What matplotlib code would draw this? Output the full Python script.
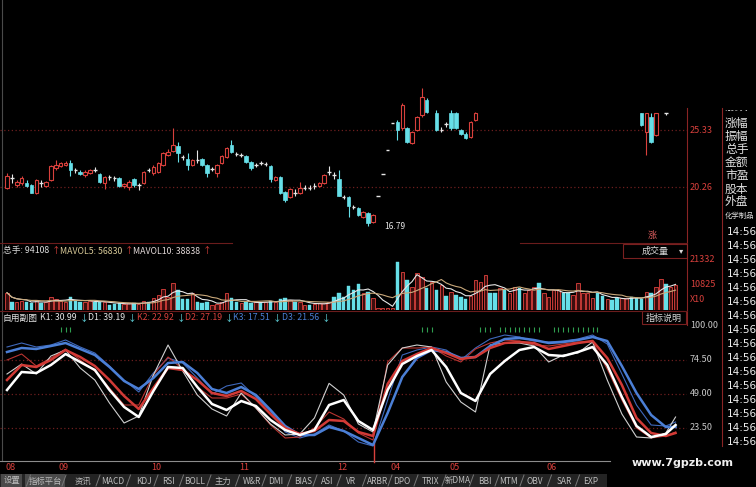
import numpy as np
import pandas as pd
import matplotlib
matplotlib.use("Agg")
import matplotlib.pyplot as plt
from matplotlib.patches import Rectangle
from matplotlib.transforms import blended_transform_factory as blend

plt.rcParams['font.family'] = ['Noto Sans CJK SC', 'DejaVu Sans']

nan = float('nan')

# ---------------- daily candles ----------------
open_ = ([20.17, 21.06, 20.44, 20.62, 20.62, 20.44, 19.73, 20.62, 20.35, 20.89,
          21.95, 22.13, 22.22, 22.40, 21.77, 21.60, 21.33, 21.51, 21.77, 21.42,
          20.62, 21.15, 21.06, 21.06, 20.35, 20.26, 20.97, 20.44, 20.62, 21.77,
          21.51, 21.60, 22.22, 23.11, 23.46, 23.91, 22.93, 22.75, 22.22, 22.66,
          22.75, 22.22, 21.86, 21.51, 22.40, 22.93, 24.00, 23.20, 23.11, 23.02,
          22.48, 22.22, 22.40, 22.31, 22.13, 20.89, 21.15, 19.82, 19.37, 19.77,
          19.73, 20.17, 20.20, 20.35, 20.35, 20.62, 21.60, 21.29, 20.97, 19.37,
          19.37, 18.48, 18.40, 17.59, 17.95, 17.15, 19.46, 21.42, 23.55, 25.91,
          26.04, 25.51, 25.51, 24.17, 25.33, 26.66, 28.00]
         + [nan]
         + [26.84, 25.33, 25.86, 26.84, 26.84, 25.33, 24.97, 24.71, 26.22]
         + [nan] * 33
         + [26.84, 25.15, 26.49, 24.89, nan, 26.84, nan, nan])
high = ([21.51, 21.42, 20.89, 21.24, 20.89, 20.53, 20.97, 20.89, 20.80, 22.22,
         22.66, 22.48, 22.57, 22.66, 21.95, 21.77, 21.77, 21.86, 22.04, 21.51,
         21.24, 21.33, 21.24, 21.15, 20.62, 20.89, 21.06, 20.62, 21.69, 21.95,
         22.22, 22.48, 23.37, 23.64, 25.51, 24.26, 23.11, 23.29, 22.75, 23.55,
         22.84, 22.31, 22.04, 22.31, 23.11, 23.82, 24.44, 23.37, 23.29, 23.11,
         22.57, 22.40, 22.57, 22.48, 22.22, 21.24, 21.24, 19.91, 20.17, 20.08,
         20.71, 20.44, 20.44, 20.62, 20.71, 21.42, 22.13, 21.60, 21.77, 19.55,
         19.46, 18.66, 18.48, 18.13, 18.04, 17.86, 19.46, 21.42, 23.55, 25.91,
         26.22, 27.73, 25.60, 25.24, 26.58, 29.06, 28.17]
        + [nan]
        + [27.11, 25.60, 26.04, 27.11, 26.93, 25.42, 25.15, 26.13, 26.93]
        + [nan] * 33
        + [26.84, 26.84, 26.84, 26.84, nan, 26.84, nan, nan])
low = ([20.08, 20.62, 20.26, 20.44, 20.26, 19.73, 19.64, 20.26, 20.26, 20.80,
        21.77, 22.04, 22.13, 21.24, 21.51, 21.33, 21.15, 21.42, 21.60, 20.62,
        20.08, 20.89, 20.80, 20.26, 20.17, 20.00, 20.26, 20.00, 20.53, 21.60,
        21.33, 21.51, 22.13, 23.02, 23.37, 22.48, 22.66, 21.77, 22.13, 22.40,
        22.13, 21.15, 21.69, 21.15, 22.31, 22.84, 23.29, 23.02, 22.93, 22.40,
        21.77, 22.04, 22.22, 22.13, 20.71, 20.80, 19.64, 18.93, 19.28, 19.46,
        19.64, 20.00, 20.00, 20.08, 20.26, 20.53, 21.33, 20.97, 19.46, 19.20,
        17.59, 18.31, 17.68, 17.51, 16.79, 17.06, 19.46, 21.42, 23.55, 25.91,
        24.44, 25.33, 24.17, 24.09, 25.24, 26.49, 26.84]
       + [nan]
       + [25.24, 25.15, 25.60, 25.33, 25.42, 24.89, 24.53, 24.62, 26.13]
       + [nan] * 33
       + [25.69, 23.11, 24.17, 24.80, nan, 26.66, nan, nan])
close = ([21.24, 21.06, 20.71, 21.06, 20.35, 19.73, 20.89, 20.62, 20.71, 22.13,
          22.22, 22.40, 22.40, 21.77, 21.77, 21.42, 21.60, 21.77, 21.77, 20.71,
          21.15, 21.15, 21.06, 20.35, 20.53, 20.71, 20.44, 20.44, 21.60, 21.77,
          22.04, 22.40, 23.29, 23.37, 24.00, 23.29, 22.93, 22.22, 22.66, 22.66,
          22.22, 21.51, 21.86, 22.22, 23.02, 23.73, 23.37, 23.20, 23.11, 22.48,
          21.95, 22.22, 22.40, 22.31, 20.97, 21.15, 19.73, 19.11, 20.08, 19.77,
          20.17, 20.17, 20.20, 20.35, 20.62, 21.33, 21.60, 21.29, 19.46, 19.37,
          18.57, 18.48, 17.77, 18.04, 17.06, 17.77, 19.46, 21.42, 23.55, 25.91,
          25.33, 27.55, 24.26, 25.15, 26.49, 28.26, 26.93]
         + [nan]
         + [25.33, 25.33, 25.86, 25.51, 25.51, 24.97, 24.62, 26.04, 26.84]
         + [nan] * 33
         + [25.77, 26.84, 24.26, 26.84, nan, 26.84, nan, nan])

# ---------------- volume (x10) ----------------
volume = [7270, 3500, 3400, 3600, 3500, 2800, 4200, 2800, 3500, 5330,
          4480, 3920, 3500, 5330, 3920, 3500, 3500, 3600, 3500, 3400,
          3500, 2100, 2520, 2800, 2520, 2800, 2800, 2520, 3920, 3500,
          4900, 6300, 8680, 5600, 11200, 8400, 4480, 4480, 7000, 3500,
          2800, 3500, 2100, 2520, 3500, 7000, 4900, 3500, 2800, 3500,
          2800, 3500, 3080, 3500, 3920, 3500, 4480, 4900, 4200, 3500,
          3500, 2100, 2100, 2520, 3080, 3080, 3500, 5330, 7270, 5600,
          10080, 8400, 10920, 7000, 7700, 4900,
          700, 650, 700, 750, 20300, 16100, 12600, 9800, 15400, 14000,
          9100, 11900, 8400, 10500, 5880, 7700, 6300, 5600, 4480, 5880,
          12600, 11900, 14700, 7000, 7000, 9100, 8400, 7000, 9800, 9380,
          7280, 8400, 9800, 11200, 7280, 5600, 8400, 8400, 7000, 7000,
          6300, 11480, 7280, 7280, 4900, 7000, 5880, 4480, 4200, 4900,
          4900, 4900, 5600, 4900, 4480, 7700, 7000, 9800, 12880, 10780,
          9800, 10500]
vol_dir = ("rcrrccrcrr" "rrrcccrrcc" "rcccrrcrrc" "rrrrrcccrc" "ccrrrrccrc"
           "crcrcrccrc" "rrcrrrrccc" "cccrcr"
           "rrrrcrcrrr" "crcrcrcccr" "rrrccrcrrc" "rrrcrrrrcc" "rrrrrccrcc"
           "rrcccrcrrc" "rr")

# ---------------- indicator lines (every 3rd day) ----------------
kdj_day = list(range(0, 136, 3)) + [137]
K1 = [64, 71.5, 64, 77.5, 82, 68.5, 59.5, 42.25, 27.25, 32.5,
      63.25, 85.75, 66.25, 48.25, 37.75, 32.5, 49.75, 38.5, 26.5, 18.25,
      19, 31, 57, 48.25, 26.5, 20.5, 70.75, 83.5, 85.75, 84.25,
      58, 43, 35.5, 85.75, 87.25, 87.25, 85, 73, 78.25, 79.75,
      88, 59.5, 34, 16.75, 16, 19.75, 31.75]
D1 = [52, 65.5, 64.75, 70.75, 79, 73, 67, 52, 39.25, 31.75,
      51.25, 69.25, 68.5, 54.25, 41.5, 37, 43.75, 40, 29.5, 22,
      18.25, 22, 40.75, 44.5, 28.75, 22, 52, 71.5, 77.5, 82,
      69.25, 49.75, 43.75, 64, 73.75, 82, 84.25, 78.25, 77.5, 80.5,
      84.25, 70.75, 46.75, 25, 16.75, 19, 25.75]
K2 = [74.5, 79, 70, 76, 82.75, 74.5, 66.25, 53.5, 40.75, 40.75,
      63.25, 76.75, 67.75, 54.25, 46, 46, 49, 38.5, 25.75, 16,
      16.75, 23.5, 35.5, 30.25, 19.75, 14.5, 73, 83.5, 83.5, 84.25,
      77.5, 73, 82.75, 87.25, 89.5, 88.75, 85.75, 85, 86.5, 88,
      88, 67.75, 44.5, 23.5, 16, 17.5, 20.5]
D2 = [59.5, 70.75, 69.25, 74.5, 82, 76.75, 70, 59.5, 47.5, 37.75,
      53.5, 68.5, 67, 59.5, 49.75, 47.5, 51.25, 45.25, 34, 23.5,
      19, 21.25, 29.5, 28.75, 20.5, 17.5, 56.5, 73.75, 79, 83.5,
      79.75, 75.25, 76.75, 83.5, 87.25, 88, 87.25, 82.75, 85, 87.25,
      88.75, 76, 55.75, 31, 19.75, 17.5, 19.75]
K3 = [84.25, 87.25, 84.25, 85.75, 89.5, 84.25, 79.75, 70, 59.5, 50.5,
      64.75, 76, 72.25, 61, 49, 55, 57.25, 46.75, 36.25, 20.5,
      16, 19, 25.75, 21.25, 13, 10, 44.5, 78.25, 82, 84.25,
      82, 74.5, 83.5, 90.25, 93.25, 91.75, 88.75, 88, 88.75, 90.25,
      93.25, 86.5, 64, 40.75, 25.75, 25, 28]
D3 = [80.5, 83.5, 82.75, 85, 87.25, 82.75, 78.25, 69.25, 58.75, 52.75,
      61, 72.25, 73, 64.75, 52.75, 49.75, 54.25, 48.25, 37, 25,
      18.25, 18.25, 24.25, 21.25, 16, 10.75, 34.75, 61.75, 76, 82,
      80.5, 76, 76.75, 85, 90.25, 91, 89.5, 87.25, 88, 89.5,
      91.75, 88.75, 70, 49.75, 33.25, 24.25, 24.25]
signal_days = [11, 12, 13, 85, 86, 87, 97, 98, 99,
               101, 102, 103, 104, 105, 106, 107, 108, 109,
               112, 113, 114, 115, 116, 117, 118, 119, 120, 121]

month_labels = ['08', '09', '10', '11', '12', '04', '05', '06']
month_days = [0, 11, 30, 48, 68, 79, 91, 111]
price_ticks = [25.33, 20.26]
vol_ticks = [21332, 10825]
kdj_ticks = [100.00, 74.50, 49.00, 23.50]
tabs = ['设置', '指标平台', '资讯', 'MACD', 'KDJ', 'RSI', 'BOLL', '主力', 'W&R', 'DMI',
        'BIAS', 'ASI', 'VR', 'ARBR', 'DPO', 'TRIX', '新DMA', 'BBI', 'MTM', 'OBV',
        'SAR', 'EXP']
info_rows = ['涨跌', '涨幅', '振幅', '总手', '金额', '市盈', '股本', '外盘']

# ---------------- styling ----------------
RED = '#d8403c'
CYAN = '#66dfe8'
WHITE = '#e6e6e6'
BLUE = '#4b7fd6'
GRID = '#6e1f1f'

W, H = 756, 487
fig = plt.figure(figsize=(W / 100, H / 100), dpi=100, facecolor='black')


def box(x0, y0, x1, y1):
    return [x0 / W, 1 - y1 / H, (x1 - x0) / W, (y1 - y0) / H]


XL = (-7 / 4.88, 680 / 4.88)

ax_o = fig.add_axes([0, 0, 1, 1], zorder=0)
ax_o.set_xlim(0, W)
ax_o.set_ylim(H, 0)
ax_o.axis('off')

ax_p = fig.add_axes(box(0, 0, 687, 240), zorder=2)
ax_v = fig.add_axes(box(0, 243, 687, 310), zorder=2)
ax_k = fig.add_axes(box(0, 323, 687, 460), zorder=2)
for a in (ax_p, ax_v, ax_k):
    a.set_xlim(*XL)
    a.axis('off')
ax_p.set_ylim(15.55, 36.89)
ax_v.set_ylim(0, 28140)
ax_k.set_ylim(-0.5, 102.25)

# ---- candles ----
o = np.array(open_, float)
h = np.array(high, float)
l = np.array(low, float)
c = np.array(close, float)
days = np.arange(len(o))
ok = ~np.isnan(o)
up = ok & (c > o)
dn = ok & (c < o)
eq = ok & (c == o)
bw = 0.72
ax_p.vlines(days[up], l[up], h[up], color=RED, lw=0.8, zorder=2)
ax_p.vlines(days[dn], l[dn], h[dn], color=CYAN, lw=0.8, zorder=2)
ax_p.vlines(days[eq], l[eq], h[eq], color=WHITE, lw=0.8, zorder=2)
ax_p.bar(days[up], c[up] - o[up], bottom=o[up], width=bw, facecolor='black',
         edgecolor=RED, lw=0.8, zorder=3)
ax_p.bar(days[dn], o[dn] - c[dn], bottom=c[dn], width=bw, facecolor=CYAN,
         edgecolor=CYAN, lw=0.5, zorder=3)
ax_p.hlines(o[eq], days[eq] - bw / 2, days[eq] + bw / 2, color=WHITE, lw=1.0, zorder=3)
for t in price_ticks:
    ax_p.axhline(t, color=GRID, lw=0.9, ls=(0, (1, 2)), zorder=1)
    ax_p.text(1.004, t, f'{t:.2f}', transform=blend(ax_p.transAxes, ax_p.transData),
              color=RED, fontsize=6.5, va='center', ha='left', clip_on=False)
imin = int(np.nanargmin(l))
ax_p.text(imin + 3.2, l[imin], f'{l[imin]:.2f}', color=WHITE, fontsize=6,
          va='center', ha='left')

# ---- volume ----
v = np.array(volume, float)
vd = np.arange(len(v))
isr = np.array([ch == 'r' for ch in vol_dir])
ax_v.bar(vd[isr], v[isr], width=0.7, facecolor='#3c0e0e', edgecolor='#c63a36', lw=0.7)
ax_v.bar(vd[~isr], v[~isr], width=0.7, facecolor=CYAN, edgecolor=CYAN, lw=0.3)
ma5 = pd.Series(v).rolling(5, min_periods=1).mean()
ma10 = pd.Series(v).rolling(10, min_periods=1).mean()
ax_v.plot(vd, ma5, color='#e6e6e6', lw=0.8)
ax_v.plot(vd, ma10, color='#c9a87a', lw=0.8)
bt = blend(ax_v.transAxes, ax_v.transData)
for t in vol_ticks:
    ax_v.text(1.004, t, f'{t}', transform=bt, color=RED, fontsize=6.5,
              va='center', ha='left', clip_on=False)
ax_v.text(1.004, 4200, 'X10', transform=bt, color=RED, fontsize=6.5,
          va='center', ha='left', clip_on=False)

# ---- indicator ----
kx = np.array(kdj_day)
for t in kdj_ticks[1:]:
    ax_k.axhline(t, color=GRID, lw=0.9, ls=(0, (1, 2)), zorder=1)
bk = blend(ax_k.transAxes, ax_k.transData)
for t in kdj_ticks:
    ax_k.text(1.004, t, f'{t:.2f}', transform=bk, color='#c8c8c8', fontsize=6.5,
              va='center', ha='left', clip_on=False)
ax_k.plot(kx, K3, color='#3f68bb', lw=0.8, zorder=2)
ax_k.plot(kx, K2, color='#b83430', lw=0.8, zorder=2)
ax_k.plot(kx, K1, color='#d0d0d0', lw=0.8, zorder=2)
ax_k.plot(kx, D3, color=BLUE, lw=1.8, zorder=3)
ax_k.plot(kx, D2, color='#d23a36', lw=1.8, zorder=3)
ax_k.plot(kx, D1, color='#ffffff', lw=1.8, zorder=4)
ax_k.vlines(signal_days, 95.5, 99.5, color='#2f9e4f', lw=0.8)
bd = blend(ax_k.transData, ax_k.transAxes)
for lab, d in zip(month_labels, month_days):
    ax_k.text(d - 0.4, -0.052, lab, transform=bd, color=RED, fontsize=6.5,
              ha='left', va='center', clip_on=False)

# ---------------- frame, headers and panels (pixel overlay) ----------------
line = dict(lw=0.8)
ax_o.plot([1.5, 1.5], [0, 461], color='#4a4a4a', **line)
ax_o.plot([687, 687], [108, 325], color='#8a2424', **line)
ax_o.plot([722, 722], [108, 446], color='#8a2424', **line)
ax_o.plot([0, 232], [243, 243], color='#6a1c1c', **line)
ax_o.plot([520, 687], [243, 243], color='#6a1c1c', **line)
ax_o.plot([0, 687], [311, 311], color='#6a1c1c', **line)
ax_o.plot([0, 610], [461, 461], color='#8c8c8c', **line)
ax_o.plot([373.5, 373.5], [440, 462], color=RED, lw=1.0)
ax_o.add_patch(Rectangle((623, 244), 64, 14, fill=False, ec='#7a2020', lw=0.8))
ax_o.add_patch(Rectangle((642, 311), 44, 13, fill=False, ec='#7a2020', lw=0.8))
ax_o.text(652, 235, '涨', color='#e06060', fontsize=6.5, ha='center', va='center')
ax_o.text(655, 251.5, '成交量', color='#d8d8d8', fontsize=6.5, ha='center', va='center')
ax_o.text(681, 251, '▾', color='#d8d8d8', fontsize=6, ha='center', va='center',
          family='DejaVu Sans')
ax_o.text(664, 318, '指标说明', color='#d8d8d8', fontsize=6.5, ha='center', va='center')

vol_head = [('总手: 94108', '#dcdcdc', 3), ('↑', RED, 52),
            ('MAVOL5: 56830', '#d6c796', 60), ('↑', RED, 125),
            ('MAVOL10: 38838', '#e2d8d8', 133), ('↑', RED, 203)]
for s, col, x in vol_head:
    ax_o.text(x, 251, s, color=col, fontsize=6.3, ha='left', va='center')

head = [('自用副图', WHITE, 3), ('K1: 30.99', WHITE, 40), ('↓', CYAN, 80),
        ('D1: 39.19', WHITE, 88), ('↓', CYAN, 128), ('K2: 22.92', RED, 137),
        ('↓', CYAN, 177), ('D2: 27.19', RED, 185), ('↓', CYAN, 225),
        ('K3: 17.51', BLUE, 233), ('↓', CYAN, 273), ('D3: 21.56', BLUE, 282),
        ('↓', CYAN, 322)]
for s, col, x in head:
    ax_o.text(x, 318, s, color=col, fontsize=6.3, ha='left', va='center')

# tabs
ax_o.add_patch(Rectangle((0, 474), 607, 13, color='#242424', lw=0))
tab_x = [12, 45, 83, 113, 144, 168, 195, 223, 252, 276, 303, 327, 351, 378,
         402, 430, 458, 485, 509, 535, 564, 591]
ax_o.add_patch(Rectangle((1, 474), 21, 13, color='#4a4a4a', lw=0))
ax_o.add_patch(Rectangle((25, 474), 40, 13, color='#4a4a4a', lw=0))
for i, (name, x) in enumerate(zip(tabs, tab_x)):
    ax_o.text(x, 481, name, color='#bcbcbc', fontsize=6, ha='center', va='center')
    if i > 0:
        sx = (tab_x[i - 1] + x) / 2
        ax_o.plot([sx - 2, sx + 2], [486, 475], color='#777777', lw=0.7)

ax_o.text(683, 463, 'www.7gpzb.com', color='#f0f0f0', fontsize=8, fontweight='bold',
          ha='center', va='center', family='DejaVu Sans')

# right information column
ax_i = fig.add_axes(box(722, 110, 756, 487), zorder=3)
ax_i.set_xlim(722, 756)
ax_i.set_ylim(487, 110)
ax_i.axis('off')
for s, y in zip(info_rows, [106, 123, 136, 149, 162, 176, 189, 202]):
    ax_i.text(725, y, s, color='#e0e0e0', fontsize=8.5, ha='left', va='center', clip_on=True)
ax_i.text(724.5, 216, '化学制品', color='#e0e0e0', fontsize=5.3, ha='left', va='center')
for k in range(16):
    ax_i.text(727, 232 + 14 * k, '14:56', color='#f0f0f0', fontsize=7.5,
              ha='left', va='center', family='DejaVu Sans', clip_on=True)

fig.savefig('out.png', dpi=100, facecolor='black')
